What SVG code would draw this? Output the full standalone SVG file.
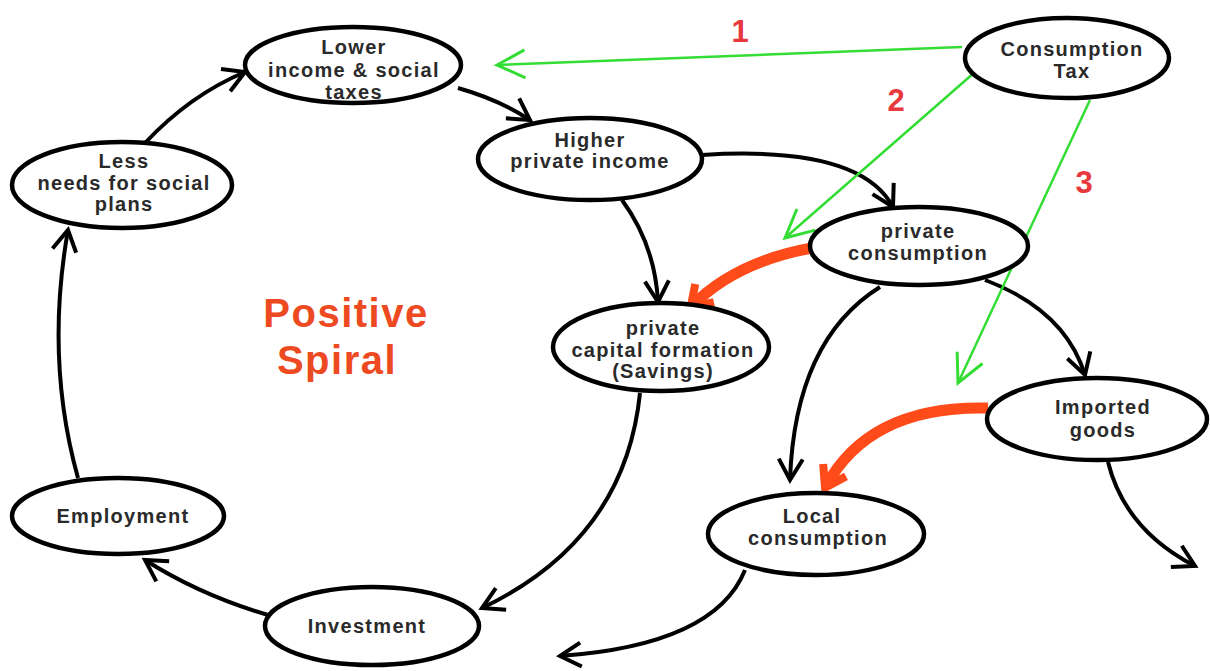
<svg xmlns="http://www.w3.org/2000/svg" width="1210" height="671" viewBox="0 0 1210 671">
<style>
.n ellipse{fill:#fff;stroke:#000;stroke-width:4.5}
.n text{font-family:"Liberation Sans",Arial,sans-serif;font-weight:bold;font-size:20px;letter-spacing:1.3px;fill:#2a2a2a;text-anchor:middle}
.k{fill:none;stroke:#000;stroke-width:4}
.r{fill:none;stroke:#ff4a1a;stroke-width:11}
.g{fill:none;stroke:#33dd33;stroke-width:2.5}
.num{font-family:"Liberation Sans",Arial,sans-serif;font-weight:bold;font-size:31px;fill:#e8383d;text-anchor:middle}
.title{font-family:"Liberation Sans",Arial,sans-serif;font-weight:bold;font-size:40px;letter-spacing:1.5px;fill:#ee4a22;text-anchor:middle}
</style>
<defs>
<marker id="ab" markerWidth="30" markerHeight="30" refX="24" refY="13" orient="auto" markerUnits="userSpaceOnUse" viewBox="0 0 30 26"><path d="M3,1 L24,13 L3,25" fill="none" stroke="#000" stroke-width="4"/></marker>
<marker id="ag" markerWidth="36" markerHeight="36" refX="30" refY="15" orient="auto" markerUnits="userSpaceOnUse" viewBox="0 0 36 30"><path d="M2,1 L30,15 L2,29" fill="none" stroke="#33dd33" stroke-width="3"/></marker>
<marker id="ar" markerWidth="34" markerHeight="34" refX="22" refY="16" orient="auto" markerUnits="userSpaceOnUse" viewBox="0 0 34 32"><path d="M4,3 L24,16 L4,29" fill="none" stroke="#ff4a1a" stroke-width="8"/></marker>
</defs>
<g id="connectors">
<path class="k" d="M145,143 Q190,95 245,72" marker-end="url(#ab)"/>
<path class="k" d="M458,88 Q500,100 530,120" marker-end="url(#ab)"/>
<path class="k" d="M702,155 Q860,145 893,207" marker-end="url(#ab)"/>
<path class="k" d="M622,200 Q655,245 658,302" marker-end="url(#ab)"/>
<path class="k" d="M640,393 Q625,540 482,608" marker-end="url(#ab)"/>
<path class="k" d="M268,615 Q200,595 145,560" marker-end="url(#ab)"/>
<path class="k" d="M78,478 Q45,360 68,230" marker-end="url(#ab)"/>
<path class="k" d="M880,287 Q795,340 790,480" marker-end="url(#ab)"/>
<path class="k" d="M985,280 Q1065,310 1085,375" marker-end="url(#ab)"/>
<path class="k" d="M1108,462 Q1125,530 1195,566" marker-end="url(#ab)"/>
<path class="k" d="M745,570 Q715,645 560,656" marker-end="url(#ab)"/>
<path class="r" d="M812,248 Q735,262 692,306" marker-end="url(#ar)"/>
<path class="r" d="M988,408 Q870,405 826,486" marker-end="url(#ar)"/>
<path class="g" d="M962,47 L497,65" marker-end="url(#ag)"/>
<path class="g" d="M975,72 L785,238" marker-end="url(#ag)"/>
<path class="g" d="M1090,100 L958,383" marker-end="url(#ag)"/>
</g>
<g id="lower-taxes" class="n"><ellipse cx="353" cy="65" rx="108" ry="38"/><text x="354" y="54">Lower</text><text x="354" y="77">income &amp; social</text><text x="354" y="99">taxes</text></g>
<g id="consumption-tax" class="n"><ellipse cx="1067" cy="58" rx="102" ry="40"/><text x="1072" y="56">Consumption</text><text x="1072" y="78">Tax</text></g>
<g id="less-needs" class="n"><ellipse cx="122" cy="185" rx="110" ry="43"/><text x="124" y="168">Less</text><text x="124" y="190">needs for social</text><text x="124" y="211">plans</text></g>
<g id="higher-income" class="n"><ellipse cx="590" cy="159" rx="112" ry="41"/><text x="590" y="147">Higher</text><text x="590" y="168">private income</text></g>
<g id="private-consumption" class="n"><ellipse cx="919" cy="246" rx="109" ry="39"/><text x="918" y="238">private</text><text x="918" y="260">consumption</text></g>
<g id="capital-formation" class="n"><ellipse cx="661" cy="347" rx="108" ry="44"/><text x="663" y="335">private</text><text x="663" y="357">capital formation</text><text x="663" y="378">(Savings)</text></g>
<g id="imported-goods" class="n"><ellipse cx="1097" cy="419" rx="110" ry="41"/><text x="1103" y="414">Imported</text><text x="1103" y="437">goods</text></g>
<g id="employment" class="n"><ellipse cx="118" cy="516" rx="106" ry="38"/><text x="123" y="523">Employment</text></g>
<g id="local-consumption" class="n"><ellipse cx="816" cy="534" rx="108" ry="41"/><text x="812" y="523">Local</text><text x="818" y="545">consumption</text></g>
<g id="investment" class="n"><ellipse cx="372" cy="626" rx="107" ry="39"/><text x="367" y="633">Investment</text></g>
<text class="title" x="346" y="327">Positive</text>
<text class="title" x="337" y="374">Spiral</text>
<text class="num" x="740" y="42">1</text>
<text class="num" x="896" y="111">2</text>
<text class="num" x="1084" y="193">3</text>
</svg>
